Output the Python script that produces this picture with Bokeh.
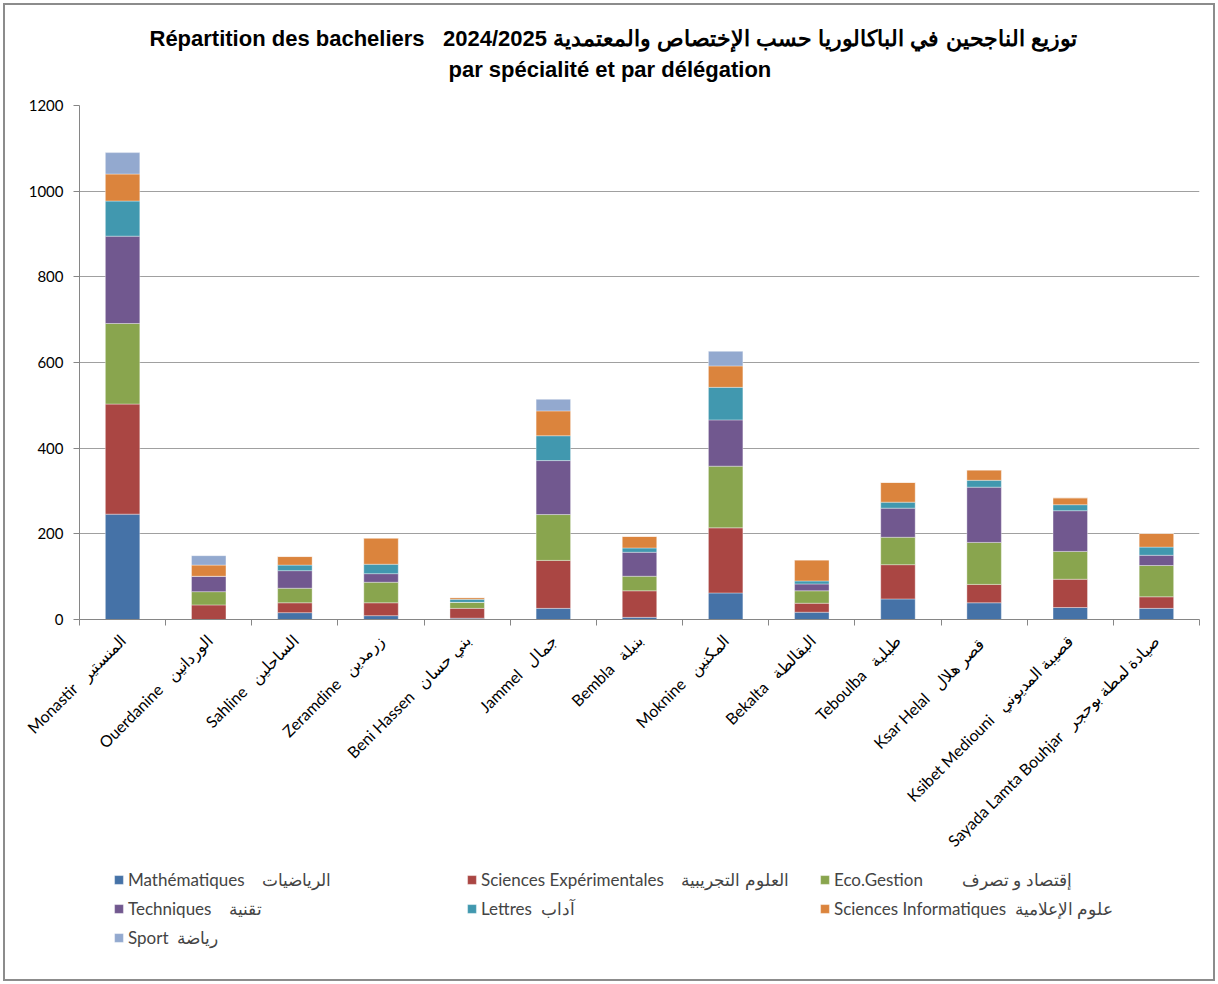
from math import pi
from bokeh.plotting import figure
from bokeh.layouts import column
from bokeh.models import Legend, LegendItem, FixedTicker, Title, ColumnDataSource
from bokeh.embed import file_html
from bokeh.resources import INLINE

delegations = ["Monastir", "Ouerdanine", "Sahline", "Zeramdine", "Beni Hassen", "Jammel",
               "Bembla", "Moknine", "Bekalta", "Teboulba", "Ksar Helal", "Ksibet Mediouni",
               "Sayada Lamta Bouhjar"]
delegations_ar = ["المنستير", "الوردانين", "الساحلين", "زرمدين", "بني حسان", "جمال",
                  "بنبلة", "المكنين", "البقالطة", "طبلبة", "قصر  هلال", "قصيبة المديوني",
                  "صيادة لمطة بوحجر"]

mathematiques = [246, 0, 16, 9, 3, 26, 5, 62, 17, 48, 39, 28, 26]
sciences_exp = [257, 34, 23, 30, 23, 112, 62, 152, 21, 80, 43, 66, 27]
eco_gestion = [188, 31, 34, 48, 14, 107, 34, 144, 29, 64, 98, 65, 73]
techniques = [204, 36, 41, 20, 0, 126, 56, 108, 16, 68, 129, 95, 24]
lettres = [82, 0, 13, 22, 7, 58, 10, 76, 7, 14, 16, 14, 19]
sciences_info = [63, 26, 20, 61, 4, 58, 27, 50, 49, 46, 24, 16, 32]
sport = [50, 22, 0, 0, 0, 27, 0, 34, 0, 0, 0, 0, 0]

NB = "\u00a0"
series_keys = ["math", "sciexp", "eco", "tech", "lettres", "info", "sport"]
series_labels = ["Mathématiques" + NB * 4 + "الرياضيات",
                 "Sciences Expérimentales" + NB * 4 + "العلوم التجريبية",
                 "Eco.Gestion" + NB * 9 + "إقتصاد و تصرف",
                 "Techniques" + NB * 4 + "تقنية",
                 "Lettres" + NB * 2 + "آداب",
                 "Sciences Informatiques" + NB * 2 + "علوم الإعلامية",
                 "Sport" + NB * 2 + "رياضة"]
colors = ["#4572A7", "#AA4643", "#89A54E", "#71588F", "#4198AF", "#DB843D", "#93A9CF"]

y_ticks = [0, 200, 400, 600, 800, 1000, 1200]

n = len(delegations)
centers = [i + 0.5 for i in range(n)]
bounds = [i for i in range(n + 1)]

source = ColumnDataSource(dict(
    x=centers, math=mathematiques, sciexp=sciences_exp, eco=eco_gestion,
    tech=techniques, lettres=lettres, info=sciences_info, sport=sport))

p = figure(frame_width=1120, frame_height=514, x_range=(0, n), y_range=(0, 1200),
           output_backend="svg", toolbar_location=None,
           min_border_left=74, min_border_right=14, min_border_top=100, min_border_bottom=245)

p.vbar_stack(series_keys, x="x", width=0.4, source=source, color=colors,
             line_color="white", line_width=0.6, line_alpha=0.6)

# Titles
t2 = Title(text="par spécialité et par délégation", align="left", offset=369,
           text_font="Liberation Sans", text_font_size="22px", text_font_style="bold",
           standoff=48, text_color="black")
t1 = Title(text="Répartition des bacheliers" + NB * 3 +
           "توزيع الناجحين في الباكالوريا حسب الإختصاص والمعتمدية 2024/2025",
           align="left", offset=70, text_font="Liberation Sans", text_font_size="22px",
           text_font_style="bold", standoff=-40, text_color="black")
p.add_layout(t2, "above")
p.add_layout(t1, "above")

# Axes
axis_color = "#868686"
p.yaxis.ticker = FixedTicker(ticks=y_ticks)
p.yaxis.axis_line_color = axis_color
p.yaxis.major_tick_line_color = axis_color
p.yaxis.major_tick_out = 6
p.yaxis.major_tick_in = 0
p.yaxis.minor_tick_line_color = None
p.yaxis.major_label_standoff = 10
p.yaxis.major_label_text_font = "Lato"
p.yaxis.major_label_text_font_size = "15px"
p.yaxis.major_label_text_color = "black"

p.xaxis.ticker = FixedTicker(ticks=centers, minor_ticks=bounds)
p.xaxis.major_label_overrides = {c: d + NB * 3 + a for c, d, a in zip(centers, delegations, delegations_ar)}
p.xaxis.axis_line_color = axis_color
p.xaxis.major_tick_line_color = None
p.xaxis.major_tick_out = 0
p.xaxis.major_tick_in = 0
p.xaxis.minor_tick_line_color = axis_color
p.xaxis.minor_tick_out = 6
p.xaxis.minor_tick_in = 0
p.xaxis.major_label_orientation = pi / 4
p.xaxis.major_label_standoff = 12
p.xaxis.major_label_text_font = "Lato"
p.xaxis.major_label_text_font_size = "16px"
p.xaxis.major_label_text_color = "black"

p.xgrid.grid_line_color = None
p.ygrid.ticker = FixedTicker(ticks=y_ticks)
p.ygrid.grid_line_color = "#a0a0a0"
p.ygrid.grid_line_width = 1
p.outline_line_color = None

# Legend panel below the chart; its swatch renderers lie entirely outside its ranges
lp = figure(width=1208, height=115, x_range=(100, 101), y_range=(5000, 5001),
            x_axis_type=None, y_axis_type=None, min_border=0,
            output_backend="svg", toolbar_location=None)
lp.outline_line_color = None
lp.grid.visible = False
lrs = lp.vbar_stack(series_keys, x="x", width=0.4, source=source, color=colors,
                    line_color="white", line_width=0.6, line_alpha=0.6)
items = [LegendItem(label=lab, renderers=[r]) for lab, r in zip(series_labels, lrs)]
legend = Legend(items=items, location=(34, 31), orientation="horizontal", ncols=3,
                glyph_width=11, glyph_height=11, label_width=330, label_height=20,
                label_standoff=4, spacing=8, padding=0, margin=0,
                label_text_font="Lato", label_text_font_size="17px",
                border_line_color=None, background_fill_alpha=0)
lp.add_layout(legend, "center")

layout = column(p, lp, spacing=0)
layout.styles = {"border": "2px solid #8c8c8c", "margin": "3px"}

open("out.html", "w").write(file_html(layout, INLINE))
